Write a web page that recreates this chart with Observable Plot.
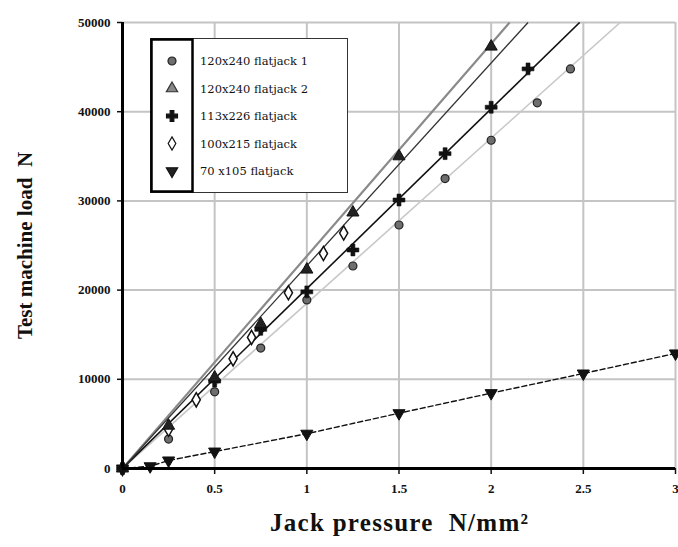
<!DOCTYPE html>
<html>
<head>
<meta charset="utf-8">
<script src="https://cdn.jsdelivr.net/npm/d3@7"></script>
<script src="https://cdn.jsdelivr.net/npm/@observablehq/plot@0.6"></script>
<style>
  html, body { margin: 0; padding: 0; background: #fff; }
  #wrap { position: relative; width: 678px; height: 547px; }
  #legend { position: absolute; left: 150px; top: 38px; }
</style>
</head>
<body>
<div id="wrap"></div>
<script>
// ---- data ----
const seriesNames = ["120x240 flatjack 1", "120x240 flatjack 2", "113x226 flatjack", "100x215 flatjack", "70 x105 flatjack"];

const s1X = [0, 0.25, 0.5, 0.75, 1, 1.25, 1.5, 1.75, 2, 2.25, 2.43];
const s1Y = [0, 3300, 8600, 13500, 18900, 22700, 27300, 32500, 36800, 41000, 44800];

const s2X = [0, 0.25, 0.5, 0.75, 1, 1.25, 1.5, 2];
const s2Y = [0, 4800, 10200, 16200, 22300, 28700, 35000, 47300];

const s3X = [0, 0.5, 0.75, 1, 1.25, 1.5, 1.75, 2, 2.2];
const s3Y = [0, 9800, 15600, 19800, 24500, 30100, 35300, 40500, 44800];

const s4X = [0, 0.25, 0.4, 0.6, 0.7, 0.9, 1.09, 1.2];
const s4Y = [0, 4400, 7700, 12300, 14700, 19700, 24100, 26400];

const s5X = [0, 0.15, 0.25, 0.5, 1, 1.5, 2, 2.5, 3];
const s5Y = [0, 250, 900, 1900, 3900, 6200, 8450, 10650, 12900];

// fitted straight lines (start and end points)
const fitNames = ["120x240 flatjack 1", "120x240 flatjack 2", "113x226 flatjack", "100x215 flatjack"];
const fitX1 = [0, 0, 0, 0];
const fitY1 = [0, 0, 0, 0];
const fitX2 = [2.7, 2.1, 2.48, 2.2];
const fitY2 = [50000, 50000, 50000, 50000];

const xTicks = [0, 0.5, 1, 1.5, 2, 2.5, 3];
const xTickLabels = ["0", "0.5", "1", "1.5", "2", "2.5", "3"];
const yTicks = [0, 10000, 20000, 30000, 40000, 50000];
const yTickLabels = ["0", "10000", "20000", "30000", "40000", "50000"];

const xTitle = "Jack pressure  N/mm²";
const yTitle = "Test machine load  N";

// ---- build tables ----
const zip = (xs, ys) => xs.map((x, i) => ({x, y: ys[i]}));
const d1 = zip(s1X, s1Y), d2 = zip(s2X, s2Y), d3_ = zip(s3X, s3Y), d4 = zip(s4X, s4Y), d5 = zip(s5X, s5Y);
const fits = fitNames.map((n, i) => ({name: n, x1: fitX1[i], y1: fitY1[i], x2: fitX2[i], y2: fitY2[i]}));

const fitStyle = {
  "120x240 flatjack 1": {stroke: "#c8c8c8", strokeWidth: 1.6},
  "120x240 flatjack 2": {stroke: "#8a8a8a", strokeWidth: 2.2},
  "113x226 flatjack": {stroke: "#111", strokeWidth: 1.6},
  "100x215 flatjack": {stroke: "#333", strokeWidth: 1.3}
};

const serif = "Liberation Serif, Times New Roman, serif";

const chart = Plot.plot({
  width: 678,
  height: 547,
  marginLeft: 122,
  marginRight: 3,
  marginTop: 22,
  marginBottom: 79,
  style: {fontFamily: serif, fontSize: "13px", background: "white", color: "#111"},
  x: {domain: [0, 3]},
  y: {domain: [0, 50000]},
  marks: [
    Plot.gridX(xTicks, {stroke: "#c4c4c4", strokeOpacity: 1, strokeWidth: 2}),
    Plot.gridY(yTicks, {stroke: "#c4c4c4", strokeOpacity: 1, strokeWidth: 2}),
    ...fits.map(f => Plot.link([f], {x1: "x1", y1: "y1", x2: "x2", y2: "y2", clip: true, ...fitStyle[f.name]})),
    Plot.line(d5, {x: "x", y: "y", stroke: "#111", strokeWidth: 1.4, strokeDasharray: "5,3"}),
    Plot.dot(d1, {x: "x", y: "y", symbol: "circle", r: 4, fill: "#6e6e6e", stroke: "#222", strokeWidth: 1.2}),
    Plot.dot(d4, {x: "x", y: "y", symbol: "diamond", r: 4.3, fill: "white", stroke: "#111", strokeWidth: 1.5}),
    Plot.dot(d3_, {x: "x", y: "y", symbol: "cross", r: 5, fill: "#111", stroke: "#111", strokeWidth: 0.6}),
    Plot.dot(d2, {x: "x", y: "y", symbol: "triangle", r: 4.5, fill: "#222", stroke: "#111", strokeWidth: 1}),
    Plot.dot(d5, {x: "x", y: "y", symbol: "triangle", rotate: 180, r: 4.5, fill: "#111", stroke: "#111", strokeWidth: 1}),
    Plot.axisX(xTicks, {tickSize: 6, tickPadding: 9, strokeWidth: 1.5, label: null, fontWeight: "bold",
      tickFormat: (d) => xTickLabels[xTicks.indexOf(d)]}),
    Plot.axisY(yTicks, {tickSize: 5, tickPadding: 7, strokeWidth: 1.5, label: null, fontWeight: "bold",
      tickFormat: (d) => yTickLabels[yTicks.indexOf(d)]}),
    Plot.ruleX([0], {stroke: "#000", strokeWidth: 3}),
    Plot.ruleY([0], {stroke: "#000", strokeWidth: 3}),
    Plot.text([xTitle], {frameAnchor: "bottom", dy: 54, textAnchor: "middle", lineAnchor: "middle", fontSize: 25, fontWeight: "bold", fontFamily: serif, fill: "#111", className: "xtitle"}),
    Plot.text([yTitle], {frameAnchor: "left", dx: -97, rotate: -90, textAnchor: "middle", lineAnchor: "middle", fontSize: 21, fontWeight: "bold", fontFamily: serif, fill: "#111"})
  ]
});

// widen the x title a little, as in the reference
d3.select(chart).selectAll(".xtitle text").attr("textLength", 258).attr("lengthAdjust", "spacing");

const wrap = document.getElementById("wrap");
wrap.appendChild(chart);

// ---- legend overlay ----
const legendSymbols = [
  {sym: d3.symbolCircle, fill: "#6e6e6e", stroke: "#222", rot: 0, size: Math.PI * 4 * 4},
  {sym: d3.symbolTriangle, fill: "#888", stroke: "#333", rot: 0, size: Math.PI * 4.2 * 4.2},
  {sym: d3.symbolCross, fill: "#111", stroke: "#111", rot: 0, size: Math.PI * 4.6 * 4.6},
  {sym: d3.symbolDiamond, fill: "white", stroke: "#111", rot: 0, size: Math.PI * 4 * 4},
  {sym: d3.symbolTriangle, fill: "#222", stroke: "#111", rot: 180, size: Math.PI * 4.2 * 4.2}
];
const lw = 198, lh = 155;
const leg = d3.create("svg").attr("id", "legend").attr("width", lw).attr("height", lh);
leg.append("rect").attr("x", 0.5).attr("y", 0.5).attr("width", lw - 1).attr("height", lh - 1)
  .attr("fill", "white").attr("stroke", "#333").attr("stroke-width", 1);
leg.append("rect").attr("x", 1.5).attr("y", 1.5).attr("width", 41).attr("height", lh - 3)
  .attr("fill", "none").attr("stroke", "#000").attr("stroke-width", 2.5);
seriesNames.forEach((name, i) => {
  const cy = 23 + i * 27.5;
  const s = legendSymbols[i];
  leg.append("path").attr("d", d3.symbol(s.sym, s.size)())
    .attr("transform", `translate(22,${cy}) rotate(${s.rot})`)
    .attr("fill", s.fill).attr("stroke", s.stroke).attr("stroke-width", 1.2);
  leg.append("text").attr("x", 50).attr("y", cy).attr("dy", "0.35em")
    .attr("font-family", "DejaVu Serif, serif")
    .attr("font-size", 11.5).attr("fill", "#111").text(name);
});
wrap.appendChild(leg.node());
</script>
</body>
</html>
